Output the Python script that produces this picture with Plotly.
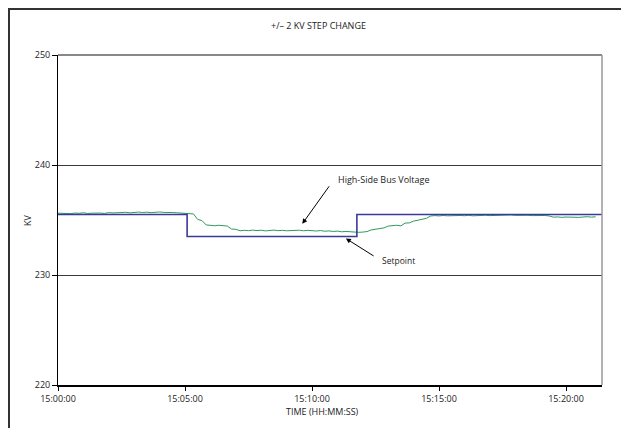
import plotly.graph_objects as go
import pandas as pd

DAY = "2000-01-01 "

# High-side bus voltage (kV), sampled every 10 s from 15:00:00
voltage = [
    235.62, 235.60, 235.64, 235.58, 235.63, 235.61, 235.66, 235.59, 235.62, 235.65,
    235.63, 235.60, 235.67, 235.64, 235.68, 235.66, 235.70, 235.65, 235.69, 235.72,
    235.68, 235.71, 235.67, 235.70, 235.73, 235.69, 235.71, 235.68, 235.66, 235.64,
    235.62, 235.58, 235.55, 235.05, 234.95, 234.55, 234.50, 234.48, 234.52, 234.47,
    234.45, 234.18, 234.15, 234.02, 234.06, 234.03, 234.08, 234.04, 234.07, 234.01,
    234.05, 234.08, 234.03, 234.06, 234.02, 234.05, 234.04, 234.07, 234.02, 234.06,
    234.03, 234.00, 234.04, 233.98, 234.01, 233.96, 233.99, 233.93, 233.96, 233.92,
    233.94, 233.88, 233.90, 233.95, 234.10, 234.15, 234.20, 234.28, 234.45, 234.48,
    234.52, 234.47, 234.72, 234.74, 234.90, 234.98, 235.05, 235.15, 235.36, 235.40,
    235.37, 235.41, 235.38, 235.40, 235.37, 235.41, 235.39, 235.42, 235.38, 235.41,
    235.39, 235.43, 235.40, 235.42, 235.45, 235.41, 235.43, 235.46, 235.42, 235.44,
    235.41, 235.43, 235.40, 235.42, 235.39, 235.41, 235.37, 235.26, 235.28, 235.24,
    235.27, 235.25, 235.28, 235.24, 235.27, 235.30, 235.26, 235.29,
]
voltage_start = "15:00:00"

# Setpoint steps (kV)
setpoint_times = ["15:00:00", "15:05:05", "15:11:46", "15:21:25"]
setpoint_values = [235.5, 233.5, 235.5, 235.5]

x_ticks = ["15:00:00", "15:05:00", "15:10:00", "15:15:00", "15:20:00"]
y_ticks = [220, 230, 240, 250]

v_times = pd.date_range(DAY + voltage_start, periods=len(voltage), freq="10s")

FONT = "Open Sans"

fig = go.Figure()
fig.add_trace(go.Scatter(
    x=v_times, y=voltage, mode="lines",
    line=dict(color="#2e9a5c", width=1), name="High-Side Bus Voltage",
))
fig.add_trace(go.Scatter(
    x=[DAY + t for t in setpoint_times], y=setpoint_values, mode="lines",
    line=dict(color="#3a3a9a", width=1.6, shape="hv"), name="Setpoint",
))

fig.update_layout(
    width=621, height=428,
    margin=dict(l=58, r=19, t=55, b=43),
    paper_bgcolor="white", plot_bgcolor="white",
    showlegend=False,
    font=dict(family=FONT, size=9, color="#222"),
    xaxis=dict(
        type="date",
        range=[DAY + "15:00:00", DAY + "15:21:25"],
        tickvals=[DAY + t for t in x_ticks],
        ticktext=x_ticks,
        showgrid=False,
        showline=True, linecolor="black", linewidth=1.5,
        ticks="outside", ticklen=4, tickcolor="black",
        tickfont=dict(family=FONT, size=9, color="#222"),
    ),
    yaxis=dict(
        range=[220, 250],
        tickvals=y_ticks,
        showgrid=True, gridcolor="#3a3a3a", gridwidth=1,
        showline=True, linecolor="black", linewidth=1,
        ticks="outside", ticklen=5, tickcolor="black",
        zeroline=False,
        tickfont=dict(family=FONT, size=9, color="#222"),
    ),
    shapes=[
        # top and right plot border
        dict(type="line", xref="paper", yref="paper", x0=0, x1=1, y0=1, y1=1,
             line=dict(color="#888", width=2)),
        dict(type="line", xref="paper", yref="paper", x0=1, x1=1, y0=0, y1=1,
             line=dict(color="#999", width=1.5)),
        # outer chart frame
        dict(type="rect", xref="paper", yref="paper",
             x0=(9 - 58) / 544, x1=1.3, y0=-0.4, y1=1 + (55 - 9) / 330,
             line=dict(color="#333", width=2), layer="above"),
    ],
    annotations=[
        dict(text="+/– 2 KV STEP CHANGE", xref="paper", yref="paper",
             x=(318 - 58) / 544, y=1 + (55 - 25) / 330, showarrow=False,
             xanchor="center", yanchor="middle", font=dict(size=9)),
        dict(text="TIME (HH:MM:SS)", xref="paper", yref="paper",
             x=(322 - 58) / 544, y=(385 - 411) / 330, showarrow=False,
             xanchor="center", yanchor="middle", font=dict(size=9)),
        dict(text="KV", xref="paper", yref="paper",
             x=(27 - 58) / 544, y=0.5, textangle=-90, showarrow=False,
             xanchor="center", yanchor="middle", font=dict(size=9)),
        dict(text="High-Side Bus Voltage", xref="x", yref="y",
             x=DAY + "15:10:57", y=238.65, showarrow=False,
             xanchor="left", yanchor="middle", font=dict(size=9)),
        dict(text="", xref="x", yref="y", axref="x", ayref="y",
             x=DAY + "15:09:37", y=234.65, ax=DAY + "15:10:43", ay=238.2,
             showarrow=True, arrowhead=2, arrowsize=1, arrowwidth=1,
             arrowcolor="black", standoff=0, startstandoff=0),
        dict(text="Setpoint", xref="x", yref="y",
             x=DAY + "15:12:40", y=231.3, showarrow=False,
             xanchor="left", yanchor="middle", font=dict(size=8.5)),
        dict(text="", xref="x", yref="y", axref="x", ayref="y",
             x=DAY + "15:11:20", y=233.32, ax=DAY + "15:12:29", ay=231.65,
             showarrow=True, arrowhead=2, arrowsize=1, arrowwidth=1,
             arrowcolor="black", standoff=0, startstandoff=0),
    ],
)

fig.write_html(
    "out.html",
    config={"displayModeBar": False},
    post_script="document.body.style.margin='0';document.body.style.overflow='hidden';",
)
